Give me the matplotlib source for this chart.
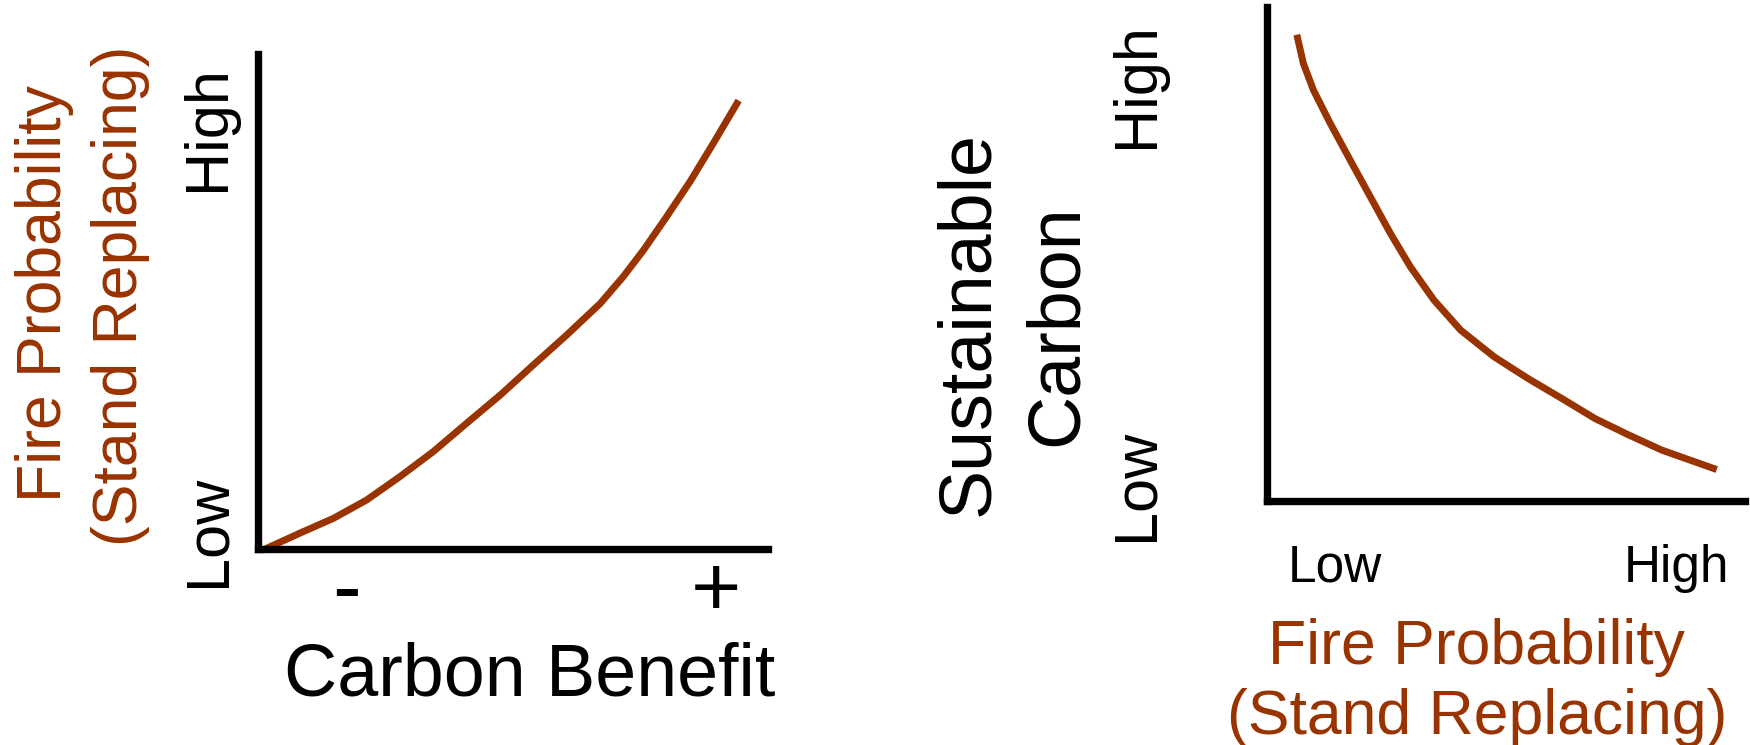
import matplotlib.pyplot as plt

plt.rcParams['font.family'] = ['Liberation Sans', 'DejaVu Sans']

BROWN = '#993300'
W, H = 1750, 745

# left panel: carbon benefit (x) vs stand-replacing fire probability (y)
benefit = [0.014, 0.082, 0.148, 0.213, 0.278, 0.344, 0.409, 0.475, 0.540,
           0.605, 0.671, 0.716, 0.756, 0.801, 0.847, 0.893, 0.939]
fire_prob = [0.0, 0.032, 0.062, 0.099, 0.146, 0.197, 0.254, 0.311, 0.372,
             0.432, 0.496, 0.550, 0.604, 0.671, 0.742, 0.820, 0.900]

# right panel: fire probability (x) vs sustainable carbon (y)
fire_prob2 = [0.064, 0.076, 0.097, 0.132, 0.174, 0.216, 0.258, 0.300, 0.349,
              0.405, 0.475, 0.546, 0.616, 0.686, 0.756, 0.826, 0.934]
sust_carbon = [0.937, 0.886, 0.832, 0.765, 0.690, 0.616, 0.542, 0.474, 0.407,
               0.346, 0.292, 0.248, 0.208, 0.167, 0.134, 0.103, 0.066]

left_ticks = ['-', '+']
level_labels = ['Low', 'High']


def px(x, y):
    # pixel position -> figure fraction
    return x / W, 1 - y / H


fig = plt.figure(figsize=(17.5, 7.45), dpi=100)


def panel(x0, y0, x1, y1):
    ax = fig.add_axes([x0 / W, 1 - y1 / H, (x1 - x0) / W, (y1 - y0) / H])
    ax.set_xlim(0, 1)
    ax.set_ylim(0, 1)
    for s in ['top', 'right']:
        ax.spines[s].set_visible(False)
    for s in ['left', 'bottom']:
        ax.spines[s].set_linewidth(5.3)
    ax.set_xticks([])
    ax.set_yticks([])
    ax.patch.set_alpha(0)
    return ax


def vtext(x, y, s, size, color='black'):
    fig.text(*px(x, y), s, rotation=90, rotation_mode='anchor',
             ha='center', va='baseline', fontsize=size, color=color)


def htext(x, y, s, size, color='black'):
    fig.text(*px(x, y), s, ha='center', va='baseline', fontsize=size, color=color)


# Left panel
ax1 = panel(258, 54, 768, 549)
ax1.plot(benefit, fire_prob, color=BROWN, lw=5, clip_on=False,
         solid_joinstyle='round')

vtext(61, 294, 'Fire Probability', 45, BROWN)
vtext(137, 296, '(Stand Replacing)', 45, BROWN)
vtext(224, 128, level_labels[1], 44)
vtext(224, 531, level_labels[0], 44)
htext(346, 615, left_ticks[0], 62)
htext(716, 616, left_ticks[1], 62)
htext(530, 696, 'Carbon Benefit', 53)

# Right panel
ax2 = panel(1267, 7, 1745, 501)
ax2.plot(fire_prob2, sust_carbon, color=BROWN, lw=5, clip_on=False,
         solid_joinstyle='round')

vtext(988, 324, 'Sustainable', 53)
vtext(1077, 325, 'Carbon', 53)
vtext(1153, 85, level_labels[1], 44)
vtext(1153, 485, level_labels[0], 44)
htext(1335, 582, level_labels[0], 37)
htext(1677, 582, level_labels[1], 37)
htext(1476, 664, 'Fire Probability', 45, BROWN)
htext(1477, 734, '(Stand Replacing)', 45, BROWN)

fig.savefig('out.png', dpi=100)
